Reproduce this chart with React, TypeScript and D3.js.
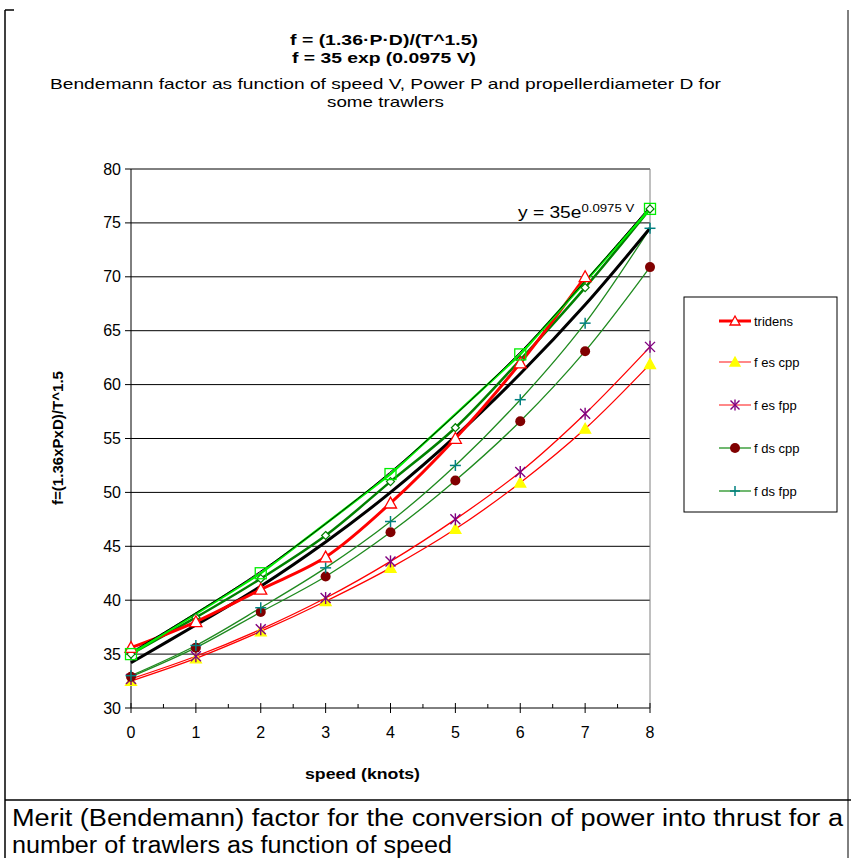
import React from "react";
import * as d3 from "d3";

const speeds = [0, 1, 2, 3, 4, 5, 6, 7, 8];
const tridensSpeeds = [0, 1, 2, 3, 4, 5, 6, 7];
const tridens = [35.6, 38.0, 41.0, 44.0, 49.0, 55.0, 62.0, 70.0];
const formulaSpeeds = [0, 2, 4, 6, 8];
const formulaPts = [35.0, 42.5, 51.7, 62.8, 76.3];
const diamondSeries = [35.0, 38.4, 42.0, 46.0, 51.0, 56.0, 62.3, 69.0, 76.3];
const blackSeries = [34.2, 37.7, 41.3, 45.4, 50.0, 55.2, 61.0, 67.4, 74.5];
const esCpp = [32.5, 34.6, 37.1, 39.9, 43.0, 46.6, 50.9, 55.9, 61.9];
const esFpp = [32.7, 34.8, 37.3, 40.2, 43.6, 47.5, 51.9, 57.3, 63.5];
const dsCpp = [32.9, 35.6, 38.9, 42.2, 46.3, 51.1, 56.6, 63.1, 70.9];
const dsFpp = [33.0, 35.8, 39.3, 43.0, 47.3, 52.5, 58.6, 65.7, 74.5];
const yTicks = [30, 35, 40, 45, 50, 55, 60, 65, 70, 75, 80];
const xTicks = [0, 1, 2, 3, 4, 5, 6, 7, 8];
const legendLabels = ["tridens", "f es cpp", "f es fpp", "f ds cpp", "f ds fpp"];

const FONT = "'Liberation Sans', Arial, Helvetica, sans-serif";

const x = d3.scaleLinear().domain([0, 8]).range([131, 650]);
const y = d3.scaleLinear().domain([30, 80]).range([708, 169]);

const pts = (xs: number[], ys: number[]) => xs.map((v, i) => [x(v), y(ys[i])] as [number, number]);
const smooth = d3.line().curve(d3.curveCatmullRom.alpha(0.5));
const straight = d3.line();

const Tri = ({ cx, cy, fill, stroke, s = 5.5 }: any) => (
  <path d={`M${cx},${cy - s}L${cx + s},${cy + s * 0.8}L${cx - s},${cy + s * 0.8}Z`} fill={fill} stroke={stroke} strokeWidth={1.3} />
);
const Star = ({ cx, cy, s = 5 }: any) => (
  <g stroke="#800080" strokeWidth={1.4}>
    <line x1={cx - s} y1={cy - s} x2={cx + s} y2={cy + s} />
    <line x1={cx - s} y1={cy + s} x2={cx + s} y2={cy - s} />
    <line x1={cx} y1={cy - s - 1} x2={cx} y2={cy + s + 1} />
  </g>
);
const Plus = ({ cx, cy, s = 5.5 }: any) => (
  <g stroke="#008080" strokeWidth={1.5}>
    <line x1={cx - s} y1={cy} x2={cx + s} y2={cy} />
    <line x1={cx} y1={cy - s} x2={cx} y2={cy + s} />
  </g>
);
const Dot = ({ cx, cy }: any) => <circle cx={cx} cy={cy} r={5} fill="#800000" />;

const fit = { lengthAdjust: "spacingAndGlyphs" } as any;

export default function App() {
  const legendY = [321, 362, 405, 448, 491];
  const legendLine = ["#ff0000", "#ff6060", "#ff6060", "#40a040", "#40a040"];
  return (
    <svg width={851} height={858} style={{ position: "absolute", left: 0, top: 0, background: "#fff" }} fontFamily={FONT}>
      <rect x={0} y={0} width={851} height={858} fill="#fff" />
      {/* frame */}
      <line x1={5} y1={10} x2={5} y2={858} stroke="#000" strokeWidth={1.5} />
      <line x1={5} y1={10} x2={14} y2={10} stroke="#000" strokeWidth={1.5} />
      <line x1={848} y1={10} x2={848} y2={858} stroke="#000" strokeWidth={1} />
      <line x1={5} y1={800} x2={851} y2={800} stroke="#000" strokeWidth={1.5} />

      {/* titles */}
      <g fill="#000">
        <text x={290} y={45} fontSize={15} fontWeight="bold" textLength={188} {...fit}>f = (1.36·P·D)/(T^1.5)</text>
        <text x={292} y={63} fontSize={15} fontWeight="bold" textLength={184} {...fit}>f = 35 exp (0.0975 V)</text>
        <text x={50} y={89} fontSize={15} textLength={671} {...fit}>Bendemann factor as function of speed V, Power P and propellerdiameter D for</text>
        <text x={327} y={107} fontSize={15} textLength={117} {...fit}>some trawlers</text>
      </g>

      {/* gridlines */}
      {yTicks.map((t) => (
        <g key={t}>
          <line x1={x(0)} x2={x(8)} y1={y(t)} y2={y(t)} stroke="#000" strokeWidth={1} />
          <line x1={x(0) - 6} x2={x(0)} y1={y(t)} y2={y(t)} stroke="#000" strokeWidth={1} />
          <text x={x(0) - 10} y={y(t) + 5.5} fontSize={16} textAnchor="end">{t}</text>
        </g>
      ))}
      <line x1={x(8)} x2={x(8)} y1={y(80)} y2={y(30)} stroke="#808080" strokeWidth={1} />
      <line x1={x(0)} x2={x(0)} y1={y(80)} y2={y(30)} stroke="#000" strokeWidth={1} />
      {xTicks.map((t) => (
        <g key={t}>
          <line x1={x(t)} x2={x(t)} y1={y(30) - 5} y2={y(30) + 5} stroke="#000" />
          <text x={x(t)} y={y(30) + 30} fontSize={16} textAnchor="middle">{t}</text>
        </g>
      ))}
      {xTicks.slice(0, 8).map((t) => (
        <line key={t} x1={x(t + 0.5)} x2={x(t + 0.5)} y1={y(30) - 4} y2={y(30)} stroke="#000" />
      ))}
      <text x={305} y={779} fontSize={15} fontWeight="bold" textLength={115} {...fit}>speed (knots)</text>
      <text transform="translate(63,505) rotate(-90)" fontSize={15} fontWeight="bold" textLength={134} {...fit}>f=(1.36xPxD)/T^1.5</text>

      {/* series lines */}
      <path d={smooth(pts(speeds, esCpp)) || ""} fill="none" stroke="#ff0000" strokeWidth={1.3} />
      <path d={smooth(pts(speeds, esFpp)) || ""} fill="none" stroke="#ff0000" strokeWidth={1.3} />
      <path d={smooth(pts(speeds, dsCpp)) || ""} fill="none" stroke="#1f8a1f" strokeWidth={1.3} />
      <path d={smooth(pts(speeds, dsFpp)) || ""} fill="none" stroke="#1f8a1f" strokeWidth={1.3} />
      <path d={smooth(pts(speeds, blackSeries)) || ""} fill="none" stroke="#000" strokeWidth={3} />
      <path d={smooth(pts(speeds, diamondSeries)) || ""} fill="none" stroke="#008000" strokeWidth={2.5} />
      <path d={smooth(pts(tridensSpeeds, tridens)) || ""} fill="none" stroke="#ff0000" strokeWidth={3} />
      <path d={straight(pts(formulaSpeeds, formulaPts)) || ""} fill="none" stroke="#00ee00" strokeWidth={2.5} />
      <path d={smooth(pts(formulaSpeeds, formulaPts).map(([a, b]) => [a - 1, b - 1.5] as [number, number])) || ""} fill="none" stroke="#000" strokeWidth={1} />

      {/* markers */}
      {speeds.map((s, i) => <Tri key={"ec" + i} cx={x(s)} cy={y(esCpp[i])} fill="#ffff00" stroke="#ffff00" />)}
      {speeds.map((s, i) => <Star key={"ef" + i} cx={x(s)} cy={y(esFpp[i])} />)}
      {speeds.map((s, i) => <Dot key={"dc" + i} cx={x(s)} cy={y(dsCpp[i])} />)}
      {speeds.map((s, i) => <Plus key={"df" + i} cx={x(s)} cy={y(dsFpp[i])} />)}
      {speeds.map((s, i) => (
        <path key={"dm" + i} d={`M${x(s)},${y(diamondSeries[i]) - 4}L${x(s) + 4},${y(diamondSeries[i])}L${x(s)},${y(diamondSeries[i]) + 4}L${x(s) - 4},${y(diamondSeries[i])}Z`} fill="#fff" stroke="#008000" strokeWidth={1.2} />
      ))}
      {tridensSpeeds.map((s, i) => <Tri key={"tr" + i} cx={x(s)} cy={y(tridens[i])} fill="#fff" stroke="#ff0000" s={6} />)}
      {formulaSpeeds.map((s, i) => (
        <rect key={"fp" + i} x={x(s) - 5.5} y={y(formulaPts[i]) - 5.5} width={11} height={11} fill="none" stroke="#00ee00" strokeWidth={1.3} />
      ))}

      {/* trend label */}
      <g transform="translate(518,218) scale(1.2,1)">
        <text x={0} y={0} fontSize={16}>
          y = 35e<tspan dy={-6} fontSize={11}>0.0975 V</tspan>
        </text>
      </g>

      {/* legend */}
      <rect x={684} y={297} width={153} height={215} fill="#fff" stroke="#000" strokeWidth={1} />
      {legendLabels.map((l, i) => (
        <g key={l}>
          <line x1={719} x2={751} y1={legendY[i]} y2={legendY[i]} stroke={legendLine[i]} strokeWidth={i === 0 ? 3 : 1.5} />
          <text x={754} y={legendY[i] + 4.5} fontSize={13}>{l}</text>
        </g>
      ))}
      <Tri cx={735} cy={legendY[0]} fill="#fff" stroke="#ff0000" s={5} />
      <Tri cx={735} cy={legendY[1]} fill="#ffff00" stroke="#ffff00" s={5} />
      <Star cx={735} cy={legendY[2]} s={4.5} />
      <Dot cx={735} cy={legendY[3]} />
      <Plus cx={735} cy={legendY[4]} s={5} />

      {/* caption */}
      <text x={12} y={826} fontSize={23} textLength={831} {...fit}>Merit (Bendemann) factor for the conversion of power into thrust for a</text>
      <text x={12} y={853} fontSize={23} textLength={440} {...fit}>number of trawlers as function of speed</text>
    </svg>
  );
}
